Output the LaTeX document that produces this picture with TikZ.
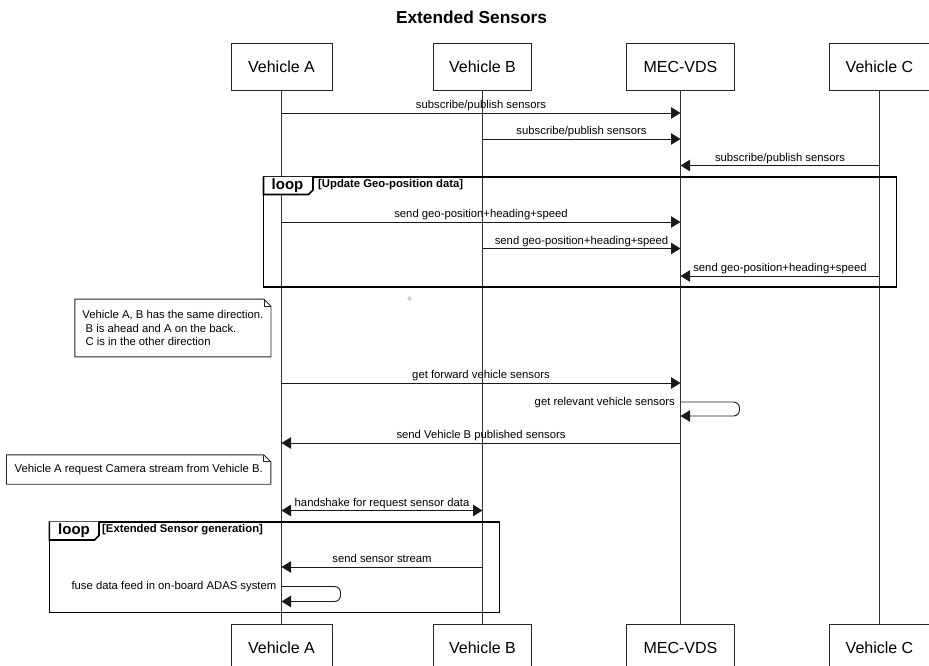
\documentclass[tikz,border=0pt]{standalone}
\usepackage{fontspec}
\setmainfont{Liberation Sans}
\usetikzlibrary{arrows.meta}

\tikzset{
  part/.style={draw=black!85, line width=0.9pt, fill=white, minimum width=#1,
    minimum height=47pt, inner sep=0pt, font=\fontsize{16}{19}\selectfont},
  life/.style={draw=black!80, line width=0.9pt},
  tipA/.tip={Triangle[length=9.5pt,width=11.5pt]},
  msg/.style={draw=black!90, line width=0.9pt, -tipA},
  lbl/.style={font=\fontsize{11.3}{13.7}\selectfont, inner sep=0pt},
  above lbl/.style={lbl, anchor=base, yshift=4.5pt},
  self lbl/.style={lbl, anchor=mid east},
  frameline/.style={draw=black, line width=1.6pt},
  looptag/.style={font=\bfseries\fontsize{15}{18}\selectfont, inner sep=0pt},
  guard/.style={font=\bfseries\fontsize{11.3}{13.7}\selectfont, inner sep=0pt, anchor=west},
  notebox/.style={lbl, align=left},
  noteline/.style={draw=black!85, line width=0.9pt},
}

\begin{document}
\begin{tikzpicture}[x=1pt,y=-1pt]
  \useasboundingbox (0,0) rectangle (929,666);

  % title
  \node[font=\bfseries\fontsize{17.3}{20}\selectfont, inner sep=0pt] (title) at (471.5,17) {Extended Sensors};

  % participants, top and bottom
  \node[part=101] (vaT) at (281.5,66.5) {Vehicle A};
  \node[part=98]  (vbT) at (482.5,66.5) {Vehicle B};
  \node[part=108] (mcT) at (680.5,66.5) {MEC-VDS};
  \node[part=101] (vcT) at (879.5,66.5) {Vehicle C};
  \node[part=101] (vaB) at (281.5,647.5) {Vehicle A};
  \node[part=98]  (vbB) at (482.5,647.5) {Vehicle B};
  \node[part=108] (mcB) at (680.5,647.5) {MEC-VDS};
  \node[part=101] (vcB) at (879.5,647.5) {Vehicle C};

  % lifelines
  \draw[life] (vaT.south) -- (vaB.north);
  \draw[life] (vbT.south) -- (vbB.north);
  \draw[life] (mcT.south) -- (mcB.north);
  \draw[life] (vcT.south) -- (vcB.north);

  % message rows
  \coordinate (r1) at (0,113);
  \coordinate (r2) at (0,139);
  \coordinate (r3) at (0,165.5);
  \coordinate (r4) at (0,222);
  \coordinate (r5) at (0,248.5);
  \coordinate (r6) at (0,276);
  \coordinate (r7) at (0,383);
  \coordinate (r8) at (0,402);
  \coordinate (r8b) at (0,416);
  \coordinate (r9) at (0,443);
  \coordinate (r10) at (0,510.5);
  \coordinate (r11) at (0,567);
  \coordinate (r12) at (0,586.5);
  \coordinate (r12b) at (0,601.5);

  % subscriptions
  \draw[msg] (vaT |- r1) -- node[above lbl] {subscribe/publish sensors} (mcT |- r1);
  \draw[msg] (vbT |- r2) -- node[above lbl] {subscribe/publish sensors} (mcT |- r2);
  \draw[msg] (vcT |- r3) -- node[above lbl] {subscribe/publish sensors} (mcT |- r3);

  % loop: geo-position updates
  \draw[frameline] (263.5,176.8) rectangle (896.5,287);
  \draw[frameline, fill=white] (263.5,176.8) -- (263.5,194.5) -- (308.5,194.5) -- (313,190) -- (313,176.8);
  \node[looptag] (loop1) at (287.5,185.3) {loop};
  \node[guard] (guard1) at (318,184.5) {[Update Geo-position data]};

  \draw[msg] (vaT |- r4) -- node[above lbl] {send geo-position+heading+speed} (mcT |- r4);
  \draw[msg] (vbT |- r5) -- node[above lbl] {send geo-position+heading+speed} (mcT |- r5);
  \draw[msg] (vcT |- r6) -- node[above lbl] {send geo-position+heading+speed} (mcT |- r6);

  % small marker
  \draw[black!35, line width=0.6pt] (409.5,298.5) circle (1.7);

  % note on directions
  \node[notebox, fill=white, minimum width=195.7pt, minimum height=57.4pt] (note1) at (172.9,328)
    {Vehicle A, B has the same direction.\\~B is ahead and A on the back.\\~C is in the other direction};
  \draw[noteline] (note1.north west) -- ([xshift=-7pt]note1.north east) -- ([yshift=-7pt]note1.north east) -- (note1.south east) -- (note1.south west) -- cycle;
  \draw[noteline] ([xshift=-7pt]note1.north east) |- ([yshift=-7pt]note1.north east);

  % sensor lookup
  \draw[msg] (vaT |- r7) -- node[above lbl] {get forward vehicle sensors} (mcT |- r7);
  \draw[msg, rounded corners=6pt] (mcT |- r8) -- ++(59,0) |- (mcT |- r8b);
  \node[self lbl] (self1) at ([xshift=-5.5pt,yshift=-0.8pt]mcT |- r8) {get relevant vehicle sensors};
  \draw[msg] (mcT |- r9) -- node[above lbl] {send Vehicle B published sensors} (vaT |- r9);

  % camera request note
  \node[lbl, fill=white, minimum width=264pt, minimum height=29pt] (note2) at (138.7,469.5)
    {Vehicle A request Camera stream from Vehicle B.};
  \draw[noteline] (note2.north west) -- ([xshift=-7pt]note2.north east) -- ([yshift=-7pt]note2.north east) -- (note2.south east) -- (note2.south west) -- cycle;
  \draw[noteline] ([xshift=-7pt]note2.north east) |- ([yshift=-7pt]note2.north east);

  % handshake
  \draw[msg, tipA-tipA] (vaT |- r10) -- node[above lbl] {handshake for request sensor data} (vbT |- r10);

  % loop: extended sensor generation
  \draw[frameline] (49.3,521.7) rectangle (499.3,612.3);
  \draw[frameline, fill=white] (49.3,521.7) -- (49.3,540) -- (94.5,540) -- (99,535.5) -- (99,521.7);
  \node[looptag] (loop2) at (74,530.2) {loop};
  \node[guard] (guard2) at (102,529.5) {[Extended Sensor generation]};

  \draw[msg] (vbT |- r11) -- node[above lbl] {send sensor stream} (vaT |- r11);
  \draw[msg, rounded corners=6pt] (vaT |- r12) -- ++(59,0) |- (vaT |- r12b);
  \node[self lbl] (self2) at ([xshift=-5pt,yshift=-0.8pt]vaT |- r12) {fuse data feed in on-board ADAS system};
\end{tikzpicture}
\end{document}
